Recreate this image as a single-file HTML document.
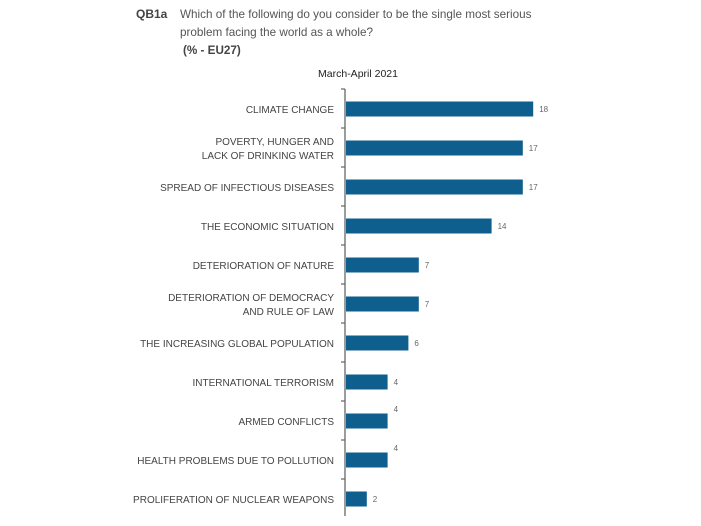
<!DOCTYPE html>
<html><head><meta charset="utf-8"><style>
body{margin:0;background:#fff;width:701px;height:521px;overflow:hidden;font-family:"Liberation Sans",sans-serif;}
</style></head><body>
<svg width="701" height="521" xmlns="http://www.w3.org/2000/svg">
<text x="136" y="18" font-size="12" font-weight="bold" fill="#444">QB1a</text>
<text x="180" y="18" font-size="11.7" fill="#555">Which of the following do you consider to be the single most serious</text>
<text x="180" y="36" font-size="11.7" fill="#555">problem facing the world as a whole?</text>
<text x="183" y="54" font-size="11.7" font-weight="bold" fill="#444">(% - EU27)</text>
<text x="358" y="77" font-size="10.5" fill="#222" text-anchor="middle">March-April 2021</text>
<g id="g"></g>
</svg>
<script>
const categories=[["CLIMATE CHANGE"],["POVERTY, HUNGER AND","LACK OF DRINKING WATER"],["SPREAD OF INFECTIOUS DISEASES"],["THE ECONOMIC SITUATION"],["DETERIORATION OF NATURE"],["DETERIORATION OF DEMOCRACY","AND RULE OF LAW"],["THE INCREASING GLOBAL POPULATION"],["INTERNATIONAL TERRORISM"],["ARMED CONFLICTS"],["HEALTH PROBLEMS DUE TO POLLUTION"],["PROLIFERATION OF NUCLEAR WEAPONS"]];
const values=[18,17,17,14,7,7,6,4,4,4,2];
const labelRaise=[0,0,0,0,0,0,0,0,9,9,0];
const NS="http://www.w3.org/2000/svg";
const g=document.getElementById('g');
const x0=346,unit=10.4,y0=89,step=39;
const xs=v=>x0+v*unit;
const yc=i=>y0+step*i+20;
function mk(t,a){const e=document.createElementNS(NS,t);for(const k in a)e.setAttribute(k,a[k]);g.appendChild(e);return e;}
const ax=mk('line',{x1:345,y1:y0,x2:345,y2:y0+step*categories.length-2,stroke:'#666','stroke-width':1.3});


for(let i=0;i<=categories.length-1;i++){
  const t=mk('line',{x1:341,x2:345,y1:y0+step*i,y2:y0+step*i,stroke:'#666','stroke-width':1.2});
  
  
}
categories.forEach((c,i)=>{
  const y=yc(i);
  const r=mk('rect',{x:x0,y:y-7.5,width:xs(values[i])-x0,height:15,fill:'#0f5f8e'});
  
  
  const lt=mk('text',{x:xs(values[i])+6,y:y+3-labelRaise[i]-(labelRaise[i]?3:0),'font-size':8,fill:'#666'});
  lt.textContent=values[i];
  
  
  c.forEach((line,j)=>{
    const off=c.length===1?4:(j===0?-3:11);
    const tx=mk('text',{x:334,y:y+off,'font-size':10,fill:'#444','text-anchor':'end'});
    tx.textContent=line;
    
    
  });
});
</script>
</body></html>
